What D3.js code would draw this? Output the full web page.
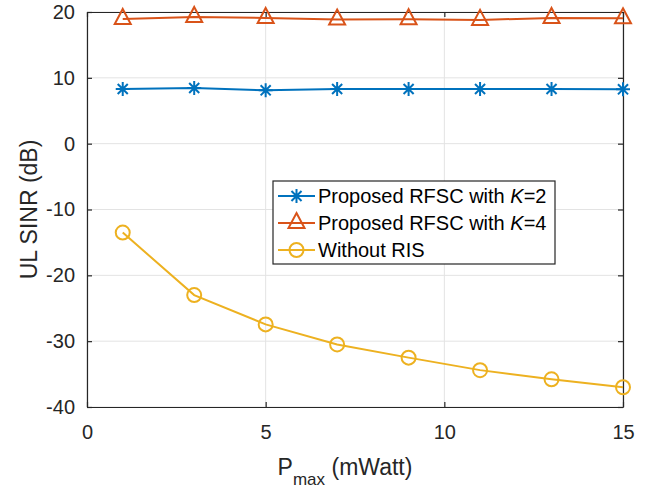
<!DOCTYPE html>
<html>
<head>
<meta charset="utf-8">
<script src="https://cdn.jsdelivr.net/npm/d3@7"></script>
<style>
  body { margin: 0; background: #fff; }
  svg { display: block; font-family: "Liberation Sans", Arial, sans-serif; }
</style>
</head>
<body>
<svg id="chart" width="649" height="491"></svg>
<script>
// data
const pmax = [1, 3, 5, 7, 9, 11, 13, 15];
const sinrK2 = [8.3, 8.45, 8.1, 8.3, 8.3, 8.3, 8.3, 8.25];
const sinrK4 = [18.95, 19.25, 19.1, 18.85, 18.9, 18.8, 19.1, 19.05];
const sinrNoRis = [-13.5, -23.0, -27.45, -30.5, -32.5, -34.4, -35.8, -37.0];

const xTicks = [0, 5, 10, 15];
const yTicks = [-40, -30, -20, -10, 0, 10, 20];

const seriesNames = ["K2", "K4", "noRis"];
const seriesColors = { K2: "#0072BD", K4: "#D95319", noRis: "#EDB120" };
const seriesMarkers = { K2: "star", K4: "triangle", noRis: "circle" };
const seriesValues = { K2: sinrK2, K4: sinrK4, noRis: sinrNoRis };

const svg = d3.select("#chart");
const margin = { top: 12, right: 26, bottom: 84, left: 87 };
const width = +svg.attr("width") - margin.left - margin.right;
const height = +svg.attr("height") - margin.top - margin.bottom;

const x = d3.scaleLinear().domain([0, 15]).range([0, width]);
const y = d3.scaleLinear().domain([-40, 20]).range([height, 0]);

const g = svg.append("g").attr("transform", `translate(${margin.left},${margin.top})`);

// grid
g.append("g")
  .selectAll("line")
  .data(xTicks)
  .join("line")
  .attr("x1", d => x(d)).attr("x2", d => x(d))
  .attr("y1", 0).attr("y2", height)
  .attr("stroke", "#e3e3e3").attr("stroke-width", 1);

g.append("g")
  .selectAll("line")
  .data(yTicks)
  .join("line")
  .attr("x1", 0).attr("x2", width)
  .attr("y1", d => y(d)).attr("y2", d => y(d))
  .attr("stroke", "#e3e3e3").attr("stroke-width", 1);

// axes, ticks pointing inward, box on
const axisColor = "#262626";
const tickLen = 5;

const xAxis = g.append("g")
  .attr("transform", `translate(0,${height})`)
  .call(d3.axisBottom(x).tickValues(xTicks).tickSizeInner(-tickLen).tickSizeOuter(0).tickPadding(18));
const xAxisTop = g.append("g")
  .call(d3.axisTop(x).tickValues(xTicks).tickSizeInner(-tickLen).tickSizeOuter(0).tickFormat(""));
const yAxis = g.append("g")
  .call(d3.axisLeft(y).tickValues(yTicks).tickSizeInner(-tickLen).tickSizeOuter(0).tickPadding(12));
const yAxisRight = g.append("g")
  .attr("transform", `translate(${width},0)`)
  .call(d3.axisRight(y).tickValues(yTicks).tickSizeInner(-tickLen).tickSizeOuter(0).tickFormat(""));

[xAxis, xAxisTop, yAxis, yAxisRight].forEach(a => {
  a.select(".domain").attr("stroke", axisColor).attr("stroke-width", 1.2);
  a.selectAll(".tick line").attr("stroke", axisColor).attr("stroke-width", 1.2);
  a.selectAll(".tick text")
    .attr("fill", axisColor)
    .attr("font-size", 20)
    .attr("font-family", "Liberation Sans, Arial, sans-serif");
});
yAxis.selectAll(".tick text").text(d => d < 0 ? "-" + Math.abs(d) : d);

// axis labels
const xLabel = svg.append("text")
  .attr("x", margin.left + width / 2 - 10)
  .attr("y", 475)
  .attr("text-anchor", "middle")
  .attr("font-size", 23)
  .attr("fill", axisColor);
xLabel.append("tspan").text("P");
xLabel.append("tspan").attr("dy", 10).attr("font-size", 17).text("max");
xLabel.append("tspan").attr("dy", -10).text(" (mWatt)");

svg.append("text")
  .attr("transform", `translate(37,${margin.top + height / 2}) rotate(-90)`)
  .attr("text-anchor", "middle")
  .attr("font-size", 23)
  .attr("fill", axisColor)
  .text("UL SINR (dB)");

// markers
function drawMarker(sel, type, color) {
  if (type === "star") {
    const r = 7;
    const d = r * 0.72;
    sel.append("path")
      .attr("d", `M${-r},0H${r}M0,${-r}V${r}M${-d},${-d}L${d},${d}M${-d},${d}L${d},${-d}`)
      .attr("stroke", color).attr("stroke-width", 2).attr("fill", "none");
  } else if (type === "triangle") {
    sel.append("path")
      .attr("d", "M0,-10L8,5L-8,5Z")
      .attr("stroke", color).attr("stroke-width", 2).attr("fill", "none");
  } else {
    sel.append("circle")
      .attr("r", 7)
      .attr("stroke", color).attr("stroke-width", 2).attr("fill", "none");
  }
}

const line = d3.line()
  .x(d => x(d[0]))
  .y(d => y(d[1]));

seriesNames.forEach(name => {
  const pts = pmax.map((p, i) => [p, seriesValues[name][i]]);
  g.append("path")
    .datum(pts)
    .attr("d", line)
    .attr("fill", "none")
    .attr("stroke", seriesColors[name])
    .attr("stroke-width", 2);

  g.append("g")
    .selectAll("g")
    .data(pts)
    .join("g")
    .attr("transform", d => `translate(${x(d[0])},${y(d[1])})`)
    .each(function () {
      drawMarker(d3.select(this), seriesMarkers[name], seriesColors[name]);
    });
});

// legend
const legend = svg.append("g").attr("transform", "translate(273,181)");
legend.append("rect")
  .attr("width", 282).attr("height", 83)
  .attr("fill", "#fff")
  .attr("stroke", axisColor).attr("stroke-width", 1.2);

const legendLabels = [
  ["Proposed RFSC with ", "K", "=2"],
  ["Proposed RFSC with ", "K", "=4"],
  ["Without RIS", "", ""]
];

seriesNames.forEach((name, i) => {
  const row = legend.append("g").attr("transform", `translate(0,${15 + i * 27})`);
  row.append("line")
    .attr("x1", 5).attr("x2", 42)
    .attr("stroke", seriesColors[name]).attr("stroke-width", 2);
  const m = row.append("g").attr("transform", "translate(23.5,0)");
  drawMarker(m, seriesMarkers[name], seriesColors[name]);
  const t = row.append("text")
    .attr("x", 45)
    .attr("y", 7)
    .attr("font-size", 20)
    .attr("fill", "#000");
  t.append("tspan").text(legendLabels[i][0]);
  if (legendLabels[i][1]) {
    t.append("tspan").attr("font-style", "italic").text(legendLabels[i][1]);
    t.append("tspan").text(legendLabels[i][2]);
  }
});
</script>
</body>
</html>
